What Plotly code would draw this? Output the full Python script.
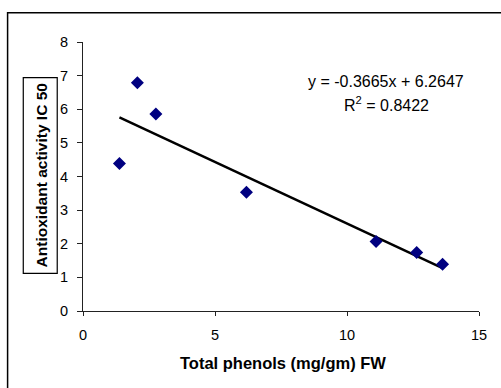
import plotly.graph_objects as go

# Data
phenols = [1.38, 2.06, 2.76, 6.19, 11.1, 12.64, 13.62]
ic50 = [4.39, 6.79, 5.86, 3.53, 2.07, 1.74, 1.39]

# Trendline coefficients as printed on the chart
slope = -0.3665
intercept = 6.2647
r2 = 0.8422

x_title = "Total phenols (mg/gm) FW"
y_title = "Antioxidant activity IC 50"

W, H = 501, 388
ML, MR, MT, MB = 82.5, 22, 41.7, 77
PW, PH = W - ML - MR, H - MT - MB

def px(x):
    return (x - ML) / PW

def py(y):
    return (H - MB - y) / PH

FONT = "Liberation Sans, Arial, sans-serif"

tx = [min(phenols), max(phenols)]
ty = [slope * v + intercept for v in tx]

fig = go.Figure()
fig.add_trace(go.Scatter(x=tx, y=ty, mode="lines",
                         line=dict(color="black", width=2.5),
                         hoverinfo="skip", showlegend=False))
fig.add_trace(go.Scatter(x=phenols, y=ic50, mode="markers",
                         marker=dict(symbol="diamond", size=10, color="#000080"),
                         showlegend=False))

fig.update_layout(
    width=W, height=H,
    margin=dict(l=ML, r=MR, t=MT, b=MB),
    paper_bgcolor="white", plot_bgcolor="white",
    font=dict(family=FONT, size=14, color="black"),
    xaxis=dict(range=[0, 15], tickvals=[0, 5, 10, 15], showgrid=False, zeroline=False,
               showline=True, linecolor="#222", linewidth=1,
               ticks="outside", ticklen=4, tickcolor="#222",
               tickfont=dict(size=14.5), ticklabelstandoff=7),
    yaxis=dict(range=[0, 8], tickvals=list(range(0, 9)), showgrid=False, zeroline=False,
               showline=True, linecolor="#222", linewidth=1,
               ticks="outside", ticklen=5, tickcolor="#222",
               tickfont=dict(size=14.5), ticklabelstandoff=6),
    shapes=[
        dict(type="rect", xref="paper", yref="paper",
             x0=px(7), x1=px(505), y0=py(395), y1=py(12.5),
             line=dict(color="black", width=1.5), fillcolor="rgba(0,0,0,0)", layer="below"),
        dict(type="rect", xref="paper", yref="paper",
             x0=px(22.7), x1=px(56.7), y0=py(273.3), y1=py(77.3),
             line=dict(color="black", width=1.2), fillcolor="rgba(0,0,0,0)"),
    ],
    annotations=[
        dict(text=f"<b>{y_title}</b>", xref="paper", yref="paper", x=px(40.7), y=py(175),
             textangle=-90, showarrow=False, xanchor="center", yanchor="middle",
             font=dict(size=15.5, family=FONT)),
        dict(text=f"<b>{x_title}</b>", xref="paper", yref="paper", x=px(283), y=py(363),
             showarrow=False, xanchor="center", yanchor="middle",
             font=dict(size=16.5, family=FONT)),
        dict(text=f"y = {slope}x + {intercept}", x=11.46, y=6.83, xref="x", yref="y",
             showarrow=False, xanchor="center", yanchor="middle", font=dict(size=16, family=FONT)),
        dict(text=f"R<sup>2</sup> = {r2}", x=11.48, y=6.16, xref="x", yref="y",
             showarrow=False, xanchor="center", yanchor="middle", font=dict(size=16, family=FONT)),
    ],
)

fig.write_html("out.html")
